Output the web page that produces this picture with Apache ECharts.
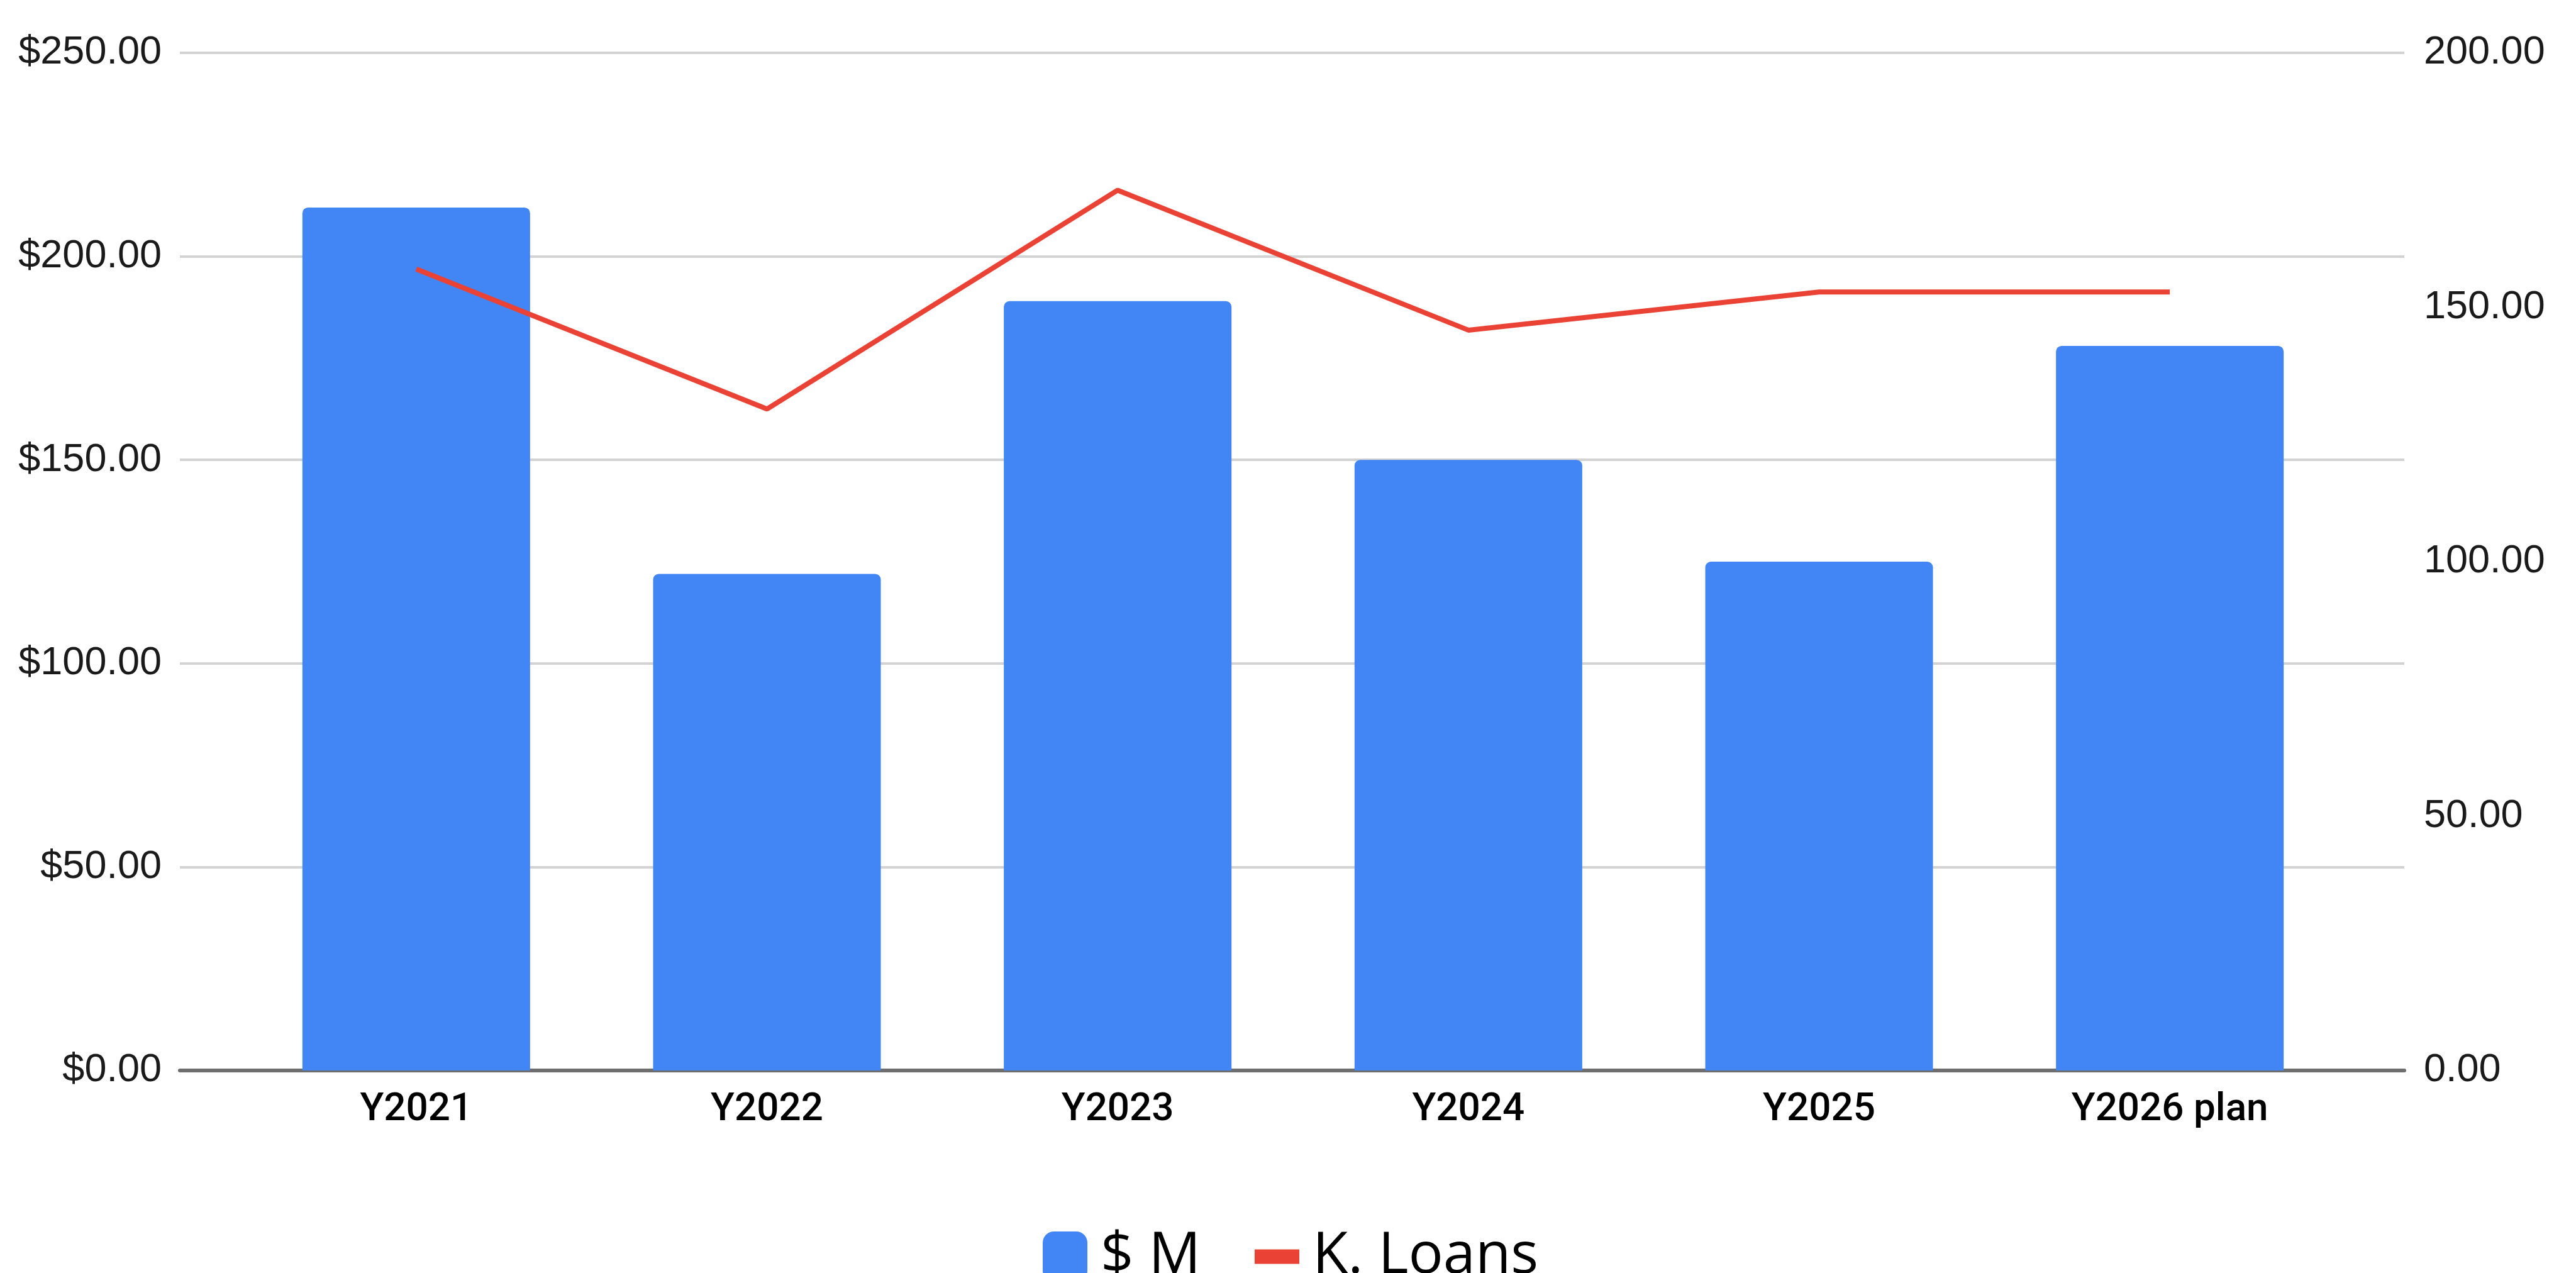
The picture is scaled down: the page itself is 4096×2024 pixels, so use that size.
<!DOCTYPE html>
<html>
<head>
<meta charset="utf-8">
<script src="https://cdn.jsdelivr.net/npm/echarts@6/dist/echarts.min.js"></script>
<style>
html,body{margin:0;padding:0;background:#fff;}
#chart{width:4096px;height:2024px;}
</style>
</head>
<body>
<div id="chart"></div>
<script>
const categories = ['Y2021', 'Y2022', 'Y2023', 'Y2024', 'Y2025', 'Y2026 plan'];
const dollarsM = [212, 122, 189, 150, 125, 178];
const kLoans = [157.5, 130, 173, 145.5, 153, 153];
const leftTicks = {min: 0, max: 250, interval: 50};
const rightTicks = {min: 0, max: 200, interval: 50};
const seriesNames = ['$ M', 'K. Loans'];

const chart = echarts.init(document.getElementById('chart'), null, {renderer: 'canvas'});
const axisFont = '"Liberation Sans", Arial, sans-serif';
const option = {
  backgroundColor: '#ffffff',
  animation: false,
  grid: [
    {left: 286, right: 273, top: 84, bottom: 322, containLabel: false},
    {left: 383, right: 367, top: 84, bottom: 322, containLabel: false}
  ],
  legend: [
    {
      data: [{name: seriesNames[0], icon: 'roundRect'}],
      left: 1653, top: 1947,
      itemWidth: 71, itemHeight: 80, itemGap: 0,
      textStyle: {fontFamily: '"Open Sans", sans-serif', fontSize: 92, color: '#000', padding: [6, 0, 0, 16]},
      selectedMode: false
    },
    {
      data: [{name: seriesNames[1], icon: 'rect'}],
      left: 1990, top: 1947,
      itemWidth: 71, itemHeight: 23, itemGap: 0,
      textStyle: {fontFamily: '"Open Sans", sans-serif', fontSize: 92, color: '#000', padding: [6, 0, 0, 16]},
      selectedMode: false
    }
  ],
  xAxis: [
    {
      gridIndex: 0, type: 'value', min: 0, max: 1,
      axisLine: {show: true, lineStyle: {color: '#6e6e6e', width: 6}},
      axisTick: {show: false}, axisLabel: {show: false}, splitLine: {show: false}
    },
    {
      gridIndex: 1, type: 'category', data: categories, boundaryGap: true,
      axisLine: {show: false}, axisTick: {show: false}, splitLine: {show: false},
      axisLabel: {fontFamily: 'Roboto, sans-serif', fontWeight: 500, fontSize: 62, color: '#000', margin: 32, interval: 0}
    }
  ],
  yAxis: [
    {
      gridIndex: 0, type: 'value', position: 'left',
      min: leftTicks.min, max: leftTicks.max, interval: leftTicks.interval,
      axisLine: {show: false}, axisTick: {show: false},
      axisLabel: {fontFamily: axisFont, fontSize: 63, color: '#1a1a1a', margin: 29,
        formatter: v => '$' + v.toFixed(2)},
      splitLine: {show: true, lineStyle: {color: '#d3d3d3', width: 4}}
    },
    {
      gridIndex: 0, type: 'value', position: 'right',
      min: rightTicks.min, max: rightTicks.max, interval: rightTicks.interval,
      axisLine: {show: false}, axisTick: {show: false},
      axisLabel: {fontFamily: axisFont, fontSize: 63, color: '#1a1a1a', margin: 31,
        formatter: v => v.toFixed(2)},
      splitLine: {show: false}
    },
    {
      gridIndex: 1, type: 'value', min: leftTicks.min, max: leftTicks.max,
      show: false, splitLine: {show: false}
    },
    {
      gridIndex: 1, type: 'value', min: rightTicks.min, max: rightTicks.max,
      show: false, splitLine: {show: false}
    }
  ],
  series: [
    {
      name: seriesNames[0], type: 'bar', xAxisIndex: 1, yAxisIndex: 2,
      data: dollarsM, barWidth: 362,
      itemStyle: {color: '#4285F4', borderRadius: [9, 9, 0, 0]},
      z: 2
    },
    {
      name: seriesNames[1], type: 'line', xAxisIndex: 1, yAxisIndex: 3,
      data: kLoans, symbol: 'none',
      lineStyle: {color: '#EA4335', width: 8},
      itemStyle: {color: '#EA4335'},
      z: 3
    }
  ]
};
chart.setOption(option);
</script>
</body>
</html>
